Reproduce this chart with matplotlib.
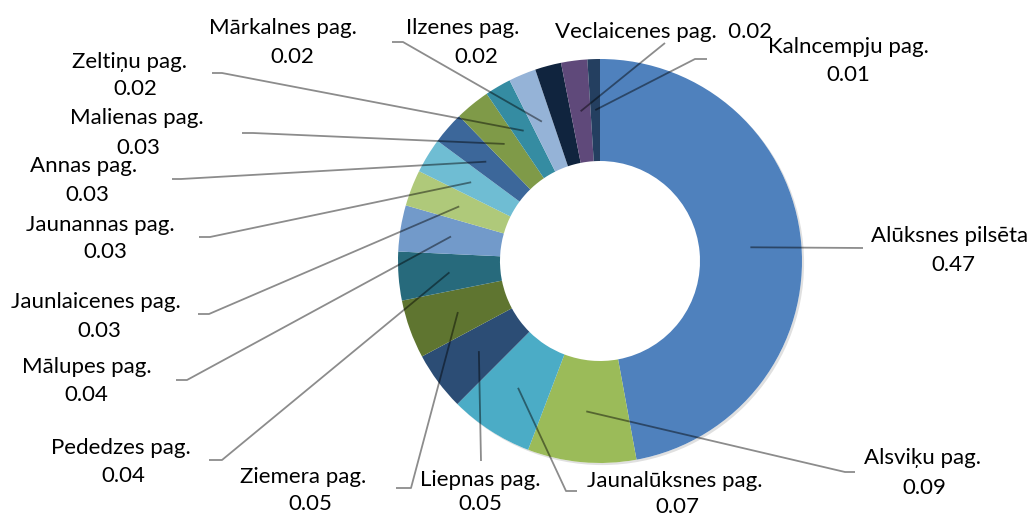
import numpy as np
import matplotlib as mpl
mpl.use('Agg')
import matplotlib.pyplot as plt
from matplotlib import patheffects as pe

plt.rcParams['font.family'] = ['Lato', 'DejaVu Sans']

names = ['Alūksnes pilsēta', 'Alsviķu pag.', 'Jaunalūksnes pag.', 'Liepnas pag.',
         'Ziemera pag.', 'Pededzes pag.', 'Mālupes pag.', 'Jaunlaicenes pag.',
         'Jaunannas pag.', 'Annas pag.', 'Malienas pag.', 'Zeltiņu pag.',
         'Mārkalnes pag.', 'Ilzenes pag.', 'Veclaicenes pag.', 'Kalncempju pag.']
shares = [0.472, 0.087, 0.067, 0.047, 0.047, 0.039, 0.037, 0.029,
          0.028, 0.026, 0.028, 0.021, 0.022, 0.021, 0.021, 0.010]
labels = ['0.47', '0.09', '0.07', '0.05', '0.05', '0.04', '0.04', '0.03',
          '0.03', '0.03', '0.03', '0.02', '0.02', '0.02', '0.02', '0.01']

colors = ['#4F81BD', '#9BBB59', '#4BACC6', '#2C4D75', '#5F7530', '#276A7C',
          '#729ACA', '#AFC97A', '#6FBDD3', '#3C679A', '#7F9A48', '#358CA2',
          '#95B3D7', '#10243E', '#5F497A', '#243F60']

# layout (pixels): name position, value position, leader path (elbow, stub end)
name_pos = [(950, 236), (922, 458), (675, 481), (480, 480), (303, 477), (121, 448),
            (87, 367), (96, 302), (100, 225), (84, 166), (137, 118), (130, 62),
            (283, 28), (463, 28), (664, 32), (848, 47)]
value_pos = [(953, 265), (924, 488), (677, 507), (480, 504), (310, 504), (123, 476),
             (86, 395), (99, 331), (105, 252), (87, 195), (138, 148), (135, 89),
             (292, 57), (476, 57), None, (848, 75)]
leaders = [[(863, 248)], [(845, 472), (855, 472)], [(566, 491), (577, 491)],
           [(481, 461)], [(411, 488), (396, 488)], [(222, 460), (209, 460)],
           [(187, 380), (176, 380)], [(209, 314), (198, 314)], [(210, 237), (199, 237)],
           [(181, 179), (172, 179)], [(253, 133), (242, 133)], [(222, 73), (212, 73)],
           [(403, 42), (392, 42)], None, [(665, 43)], [(695, 59), (707, 59)]]

cx, cy, R, ring = 600, 261, 202, 102
fs = 16

fig = plt.figure(figsize=(10.29, 5.16), dpi=100)
ax = fig.add_axes([0, 0, 1, 1])

# soft shadow under the ring
shadow = plt.Circle((cx, cy), R, facecolor='white', edgecolor='none', zorder=0,
                    path_effects=[pe.SimplePatchShadow(offset=(1.5, -1.5), shadow_rgbFace='#000000', alpha=0.12),
                                  pe.Normal()])
ax.add_patch(shadow)

wedges, _ = ax.pie(shares, colors=colors, startangle=-90, counterclock=True,
                   center=(cx, cy), radius=R,
                   wedgeprops=dict(width=ring, edgecolor='none', linewidth=0))
for w in wedges:
    w.set_zorder(1)

ax.set_xlim(0, 1029)
ax.set_ylim(516, 0)
ax.set_aspect('equal')
ax.axis('off')

rmid = R - ring / 2
for i, w in enumerate(wedges):
    if leaders[i] is not None:
        a = np.deg2rad((w.theta1 + w.theta2) / 2)
        pts = [(cx + rmid * np.cos(a), cy + rmid * np.sin(a))] + leaders[i]
        xs, ys = zip(*pts)
        ax.plot(xs, ys, color='black', alpha=0.45, lw=1.3, zorder=3, solid_capstyle='butt')

    if value_pos[i] is None:
        ax.text(name_pos[i][0], name_pos[i][1], names[i] + '  ' + labels[i],
                ha='center', va='center', fontsize=fs, color='black', zorder=4)
    else:
        ax.text(name_pos[i][0], name_pos[i][1], names[i], ha='center', va='center',
                fontsize=fs, color='black', zorder=4)
        ax.text(value_pos[i][0], value_pos[i][1], labels[i], ha='center', va='center',
                fontsize=fs, color='black', zorder=4)

plt.savefig('out.png', dpi=100)
